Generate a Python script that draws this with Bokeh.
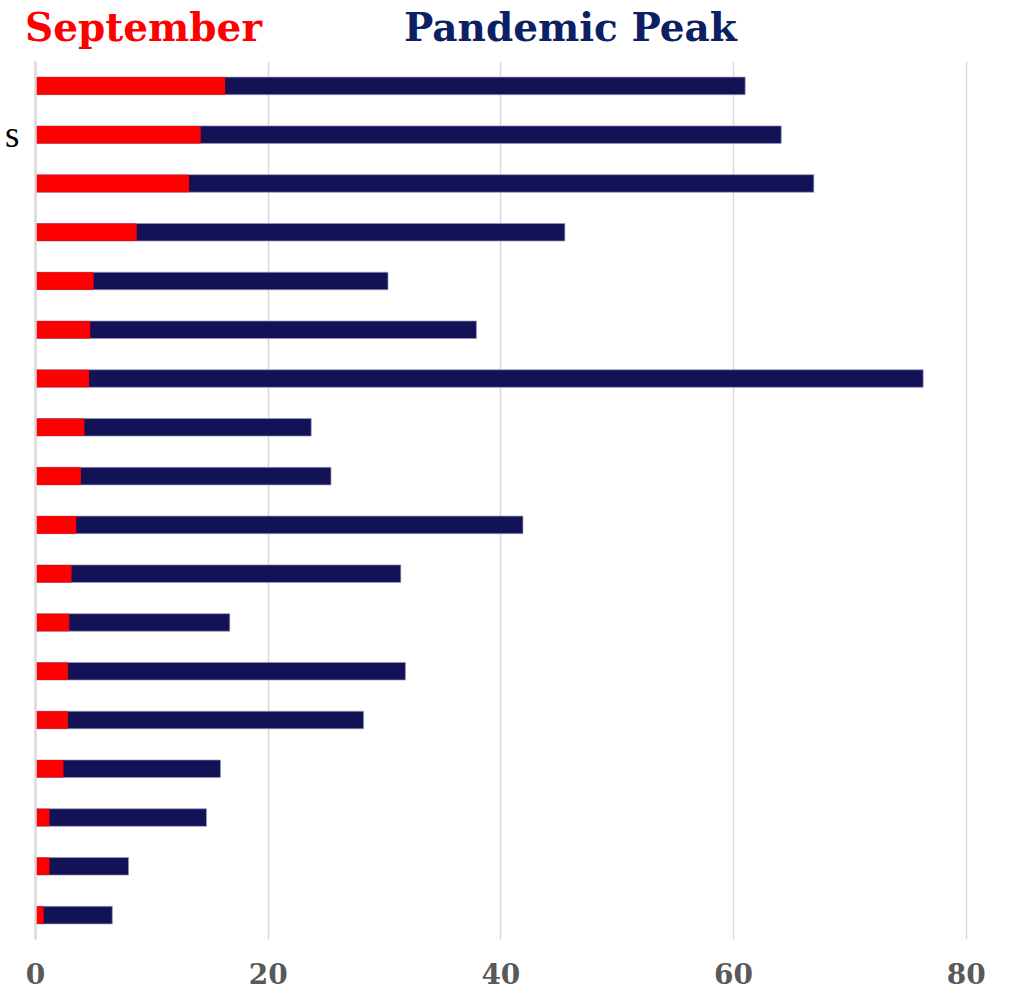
from bokeh.plotting import figure
from bokeh.models import Range1d, FactorRange, FixedTicker, ColumnDataSource, CustomJSTickFormatter, Div
from bokeh.layouts import column
from bokeh.embed import file_html
from bokeh.resources import INLINE

# ---- data ----
categories = ["r01", "r02", "r03", "r04", "r05", "r06", "r07", "r08", "r09",
              "r10", "r11", "r12", "r13", "r14", "r15", "r16", "r17", "r18"]
category_labels = ["", "s", "", "", "", "", "", "", "",
                   "", "", "", "", "", "", "", "", ""]
september = [16.3, 14.2, 13.2, 8.7, 5.0, 4.7, 4.6, 4.2, 3.9,
             3.5, 3.1, 2.9, 2.8, 2.8, 2.4, 1.2, 1.2, 0.7]
pandemic_peak = [61.0, 64.1, 66.9, 45.5, 30.3, 37.9, 76.3, 23.7, 25.4,
                 41.9, 31.4, 16.7, 31.8, 28.2, 15.9, 14.7, 8.0, 6.6]
x_ticks = [0, 20, 40, 60, 80]
series_names = ["September", "Pandemic Peak"]
series_colors = ["#FF0000", "#0B2163"]

src = ColumnDataSource(dict(cat=categories, sep=september, peak=pandemic_peak))

# ---- header with series names ----
title_font = "font-family:'DejaVu Serif';font-weight:bold;font-size:39px;line-height:39px;white-space:nowrap;position:absolute;top:8px;"
header_html = (
    '<div style="position:relative;width:1013px;height:55px;">'
    + f'<span style="{title_font}left:25px;color:{series_colors[0]};">{series_names[0]}</span>'
    + f'<span style="{title_font}left:404px;color:{series_colors[1]};">{series_names[1]}</span>'
    + '</div>'
)
header = Div(text=header_html, width=1013, height=55, margin=0)

p = figure(width=1013, height=941, output_backend="svg", toolbar_location=None,
           y_range=FactorRange(factors=list(reversed(categories)), range_padding=0),
           x_range=Range1d(0, 82),
           min_border_left=35, min_border_top=6, min_border_right=24, min_border_bottom=57,
           margin=0)
p.outline_line_color = None
p.background_fill_color = "white"
p.border_fill_color = "white"

p.hbar(y="cat", left=0, right="peak", height=0.36, source=src,
       fill_color="#131256", line_color="#9a9ac0", line_width=1, line_alpha=0.7)
p.hbar(y="cat", left=0, right="sep", height=0.36, source=src,
       fill_color="#FF0000", line_color=None)

# grid
p.ygrid.grid_line_color = None
p.xgrid.ticker = FixedTicker(ticks=x_ticks)
p.xgrid.grid_line_color = "#D9D9D9"
p.xgrid.grid_line_width = 1.5

# x axis
xa = p.xaxis[0]
xa.ticker = FixedTicker(ticks=x_ticks)
xa.axis_line_color = None
xa.major_tick_line_color = None
xa.minor_tick_line_color = None
xa.major_tick_out = 0
xa.major_tick_in = 0
xa.major_label_standoff = 23
xa.major_label_text_font = "DejaVu Serif"
xa.major_label_text_font_style = "bold"
xa.major_label_text_font_size = "28px"
xa.major_label_text_color = "#595959"

# y axis
ya = p.yaxis[0]
ya.axis_line_color = "#D9D9D9"
ya.axis_line_width = 2.5
ya.major_tick_line_color = None
ya.minor_tick_line_color = None
ya.major_tick_out = 0
ya.major_tick_in = 0
ya.major_label_standoff = 16
ya.major_label_text_font = "Liberation Serif"
ya.major_label_text_font_size = "37px"
ya.major_label_text_color = "black"
ya.formatter = CustomJSTickFormatter(
    args=dict(names=categories, labels=category_labels),
    code="const i = names.indexOf(tick); return i >= 0 ? labels[i] : '';")

layout = column(header, p, spacing=0, margin=0)
open("out.html", "w").write(file_html(layout, INLINE))
